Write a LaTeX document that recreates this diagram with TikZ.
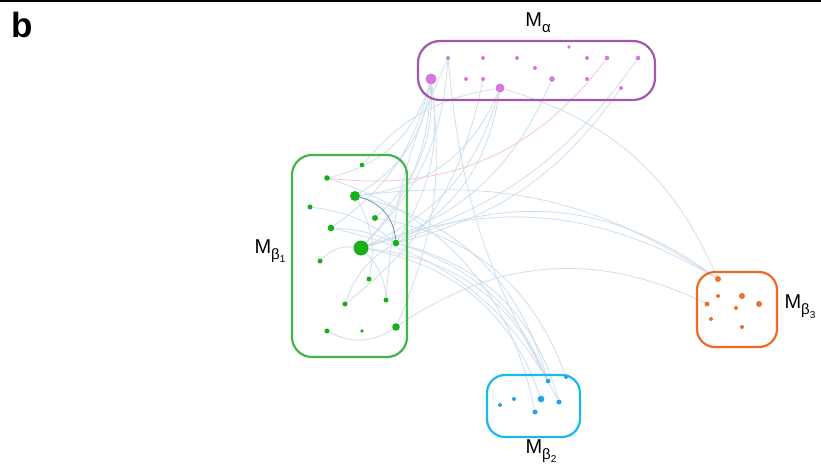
\documentclass[tikz,border=0pt]{standalone}
\usepackage{fontspec}
\setmainfont{Liberation Sans}
\pgfdeclarelayer{links}
\pgfdeclarelayer{frames}
\pgfsetlayers{links,frames,main}
\definecolor{linkblue}{RGB}{205,222,236}
\definecolor{linkpink}{RGB}{248,198,204}
\definecolor{linkdark}{RGB}{105,145,190}
\definecolor{alphaframe}{RGB}{160,88,170}
\definecolor{alphadot}{RGB}{214,120,218}
\definecolor{greenframe}{RGB}{64,182,72}
\definecolor{greendot}{RGB}{24,176,24}
\definecolor{cyanframe}{RGB}{22,186,236}
\definecolor{cyandot}{RGB}{34,162,232}
\definecolor{orangeframe}{RGB}{240,104,40}
\definecolor{orangedot}{RGB}{236,112,40}
\tikzset{
  dot/.style={circle, inner sep=0pt, minimum size=#1},
  adot/.style={dot=#1, fill=alphadot},
  gdot/.style={dot=#1, fill=greendot},
  cdot/.style={dot=#1, fill=cyandot},
  odot/.style={dot=#1, fill=orangedot},
  frame/.style={draw=#1, line width=2.2pt, rounded corners=20pt, inner sep=0pt},
  link/.style={draw=linkblue, line width=0.8pt, bend left=#1},
  link/.default=30,
  grouplabel/.style={font=\fontsize{20}{22}\selectfont, inner sep=0pt}
}
\newcommand\subA[1]{\raisebox{-0.3em}{\fontsize{15}{15}\selectfont #1}}
\newcommand\subB[2]{\raisebox{-0.3em}{\fontsize{15}{15}\selectfont #1\raisebox{-0.25em}{\fontsize{10}{10}\selectfont #2}}}
\begin{document}
\begin{tikzpicture}[x=1pt,y=-1pt]
\useasboundingbox (0,0) rectangle (821,474);
% panel rule and letter
\draw[line width=2pt] (0,1) -- (821,1);
\node[font=\fontsize{35}{35}\selectfont\bfseries, inner sep=0pt] (panel) at (22,25) {b};

% ---- group M_alpha ----
\node[adot=3.6pt] (a1) at (569,47) {};
\node[adot=4pt]   (a2) at (448,58) {};
\node[adot=4pt]   (a3) at (483,58) {};
\node[adot=4pt]   (a4) at (517,58) {};
\node[adot=4pt]   (a5) at (587,58) {};
\node[adot=4.6pt] (a6) at (607,58) {};
\node[adot=4.6pt] (a7) at (638,58) {};
\node[adot=4pt]   (a8) at (535,68) {};
\node[adot=11pt]  (a9) at (431,79) {};
\node[adot=4pt]   (a10) at (466,79) {};
\node[adot=4pt]   (a11) at (483,79) {};
\node[adot=5.6pt] (a12) at (552,79) {};
\node[adot=4pt]   (a13) at (587,79) {};
\node[adot=9pt]   (a14) at (500,88) {};
\node[adot=4pt]   (a15) at (621,88) {};

% ---- group M_beta1 ----
\node[gdot=4.6pt] (g1) at (362,165) {};
\node[gdot=5.6pt] (g2) at (327,178) {};
\node[gdot=10pt]  (g3) at (355,196) {};
\node[gdot=5pt]   (g4) at (310,207) {};
\node[gdot=6pt]   (g5) at (375,218) {};
\node[gdot=6.6pt] (g6) at (331,228) {};
\node[gdot=15pt]  (g7) at (361,248) {};
\node[gdot=6.6pt] (g8) at (396,243) {};
\node[gdot=5pt]   (g9) at (320,261) {};
\node[gdot=5pt]   (g10) at (369,279) {};
\node[gdot=5pt]   (g11) at (386,300) {};
\node[gdot=5pt]   (g12) at (345,304) {};
\node[gdot=5pt]   (g13) at (327,331) {};
\node[gdot=3.6pt] (g14) at (362,331) {};
\node[gdot=7.6pt] (g15) at (396,327) {};

% ---- group M_beta2 ----
\node[cdot=4.6pt] (b1) at (548,381) {};
\node[cdot=4pt]   (b2) at (566,377) {};
\node[cdot=4pt]   (b3) at (514,399) {};
\node[cdot=4pt]   (b4) at (500,405) {};
\node[cdot=6.6pt] (b5) at (541,399) {};
\node[cdot=5pt]   (b6) at (559,402) {};
\node[cdot=5pt]   (b7) at (535,412) {};

% ---- group M_beta3 ----
\node[odot=6pt]   (o1) at (718,279) {};
\node[odot=4pt]   (o2) at (718,296) {};
\node[odot=6pt]   (o3) at (742,296) {};
\node[odot=5pt]   (o4) at (707,304) {};
\node[odot=4pt]   (o5) at (736,308) {};
\node[odot=6pt]   (o6) at (759,304) {};
\node[odot=4pt]   (o7) at (711,319) {};
\node[odot=4pt]   (o8) at (742,327) {};

% group labels
\node[grouplabel] (labA) at (538,23) {M\subA{α}};
\node[grouplabel] (labB1) at (270,251) {M\subB{β}{1}};
\node[grouplabel] (labB2) at (541,451) {M\subB{β}{2}};
\node[grouplabel] (labB3) at (800,307) {M\subB{β}{3}};

% group frames
\begin{pgfonlayer}{frames}
\node[frame=alphaframe, rounded corners=22pt, minimum width=237pt, minimum height=59pt] (frA) at (536.5,70.5) {};
\node[frame=greenframe, minimum width=115pt, minimum height=202pt] (frB1) at (349.5,256) {};
\node[frame=cyanframe, rounded corners=18pt, minimum width=93pt, minimum height=62pt] (frB2) at (533.5,406) {};
\node[frame=orangeframe, rounded corners=18pt, minimum width=80pt, minimum height=75pt] (frB3) at (737,309.5) {};
\end{pgfonlayer}

% links
\begin{pgfonlayer}{links}
% from M_alpha into M_beta1
\draw[link=25] (a9) to (g3);
\draw[link=20] (a9) to (g7);
\draw[link=25] (a9) to (g5);
\draw[link=20] (a9) to (g8);
\draw[link=30] (a9) to (g2);
\draw[link=15] (a9) to (g15);
\draw[link=20] (a9) to (g6);
\draw[link=-10] (a2) to (g11);
\draw[link=20] (a2) to (g7);
\draw[link=25] (a14) to (g7);
\draw[link=25] (a14) to (g8);
\draw[link=30] (a14) to (g3);
\draw[link=25] (a12) to (g7);
\draw[link=20] (a7) to (g7);
\draw[link=20] (a11) to (g12);
% from M_alpha into M_beta2 / M_beta3
\draw[link=-12] (a2) to (b1);
\draw[link=25] (a14) to (o1);
\draw[link=20] (a15) to (g8);
% from M_beta1 into M_beta2
\draw[link=30] (g3) to (b1);
\draw[link=30] (g7) to (b5);
\draw[link=30] (g8) to (b6);
\draw[link=30] (g5) to (b2);
\draw[link=30] (g7) to (b1);
\draw[link=30] (g2) to (b7);
\draw[link=25] (g8) to (b1);
\draw[link=25] (g6) to (b6);
% from M_beta1 into M_beta3
\draw[link=25] (g7) to (o1);
\draw[link=30] (g15) to (o4);
\draw[link=20] (g3) to (o1);
\draw[link=30] (g8) to (o1);
% within M_beta1
\draw[link=30] (g15) to (g13);
\draw[link=25] (g9) to (g7);
\draw[link=15] (g4) to (g8);
\draw[link=10] (g6) to (g8);
\draw[link=-20] (g11) to (g7);
\draw[link=20] (g12) to (g8);
\draw[link=-20] (g10) to (g3);
\draw[link=20] (g1) to (a14);
% highlighted links
\draw[link=30, draw=linkpink] (a6) to (g2);
\draw[link=35, draw=linkdark] (g3) to (g8);
\end{pgfonlayer}
\end{tikzpicture}
\end{document}
